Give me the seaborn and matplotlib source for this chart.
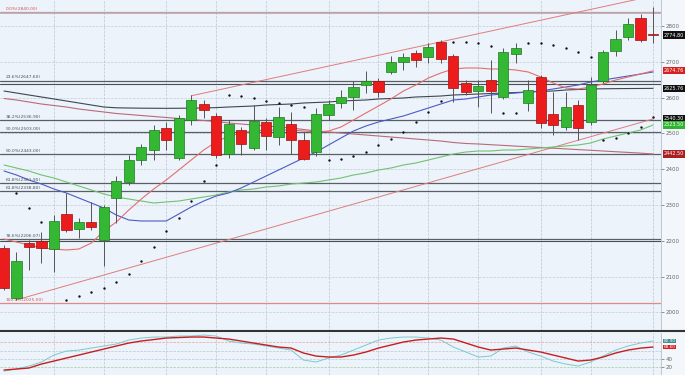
import numpy as np
import matplotlib.pyplot as plt
import seaborn as sns

sns.set_theme(style='white')
plt.rcParams['font.family'] = ['DejaVu Sans']

# daily candles (53 sessions)
opens = [2179.9, 2040.2, 2193.8, 2199.4, 2177.1, 2274.8, 2232.9, 2252.5, 2202.2, 2319.5,
         2364.2, 2425.7, 2453.6, 2515.1, 2431.3, 2537.4, 2582.1, 2548.6, 2442.4, 2509.5,
         2459.2, 2531.8, 2489.9, 2526.2, 2481.5, 2448.0, 2551.4, 2584.9, 2601.7, 2635.2,
         2646.3, 2671.5, 2699.4, 2724.6, 2713.4, 2755.3, 2716.2, 2640.8, 2618.4, 2649.1,
         2601.7, 2721.8, 2584.9, 2657.5, 2554.2, 2517.9, 2579.3, 2531.8, 2646.3, 2730.1,
         2769.2, 2822.3, 2776.5]
highs = [2188.2, 2168.7, 2202.2, 2224.6, 2272.0, 2333.5, 2263.7, 2308.4, 2300.0, 2381.0,
         2439.6, 2470.4, 2523.4, 2531.8, 2551.4, 2607.2, 2593.3, 2557.0, 2537.4, 2517.9,
         2579.3, 2543.0, 2573.7, 2559.8, 2503.9, 2570.9, 2593.3, 2621.2, 2646.3, 2674.3,
         2654.7, 2716.2, 2724.6, 2732.9, 2752.5, 2760.9, 2721.8, 2649.1, 2649.1, 2705.0,
         2738.5, 2752.5, 2649.1, 2663.1, 2615.6, 2615.6, 2593.3, 2657.5, 2732.9, 2788.8,
         2822.3, 2833.5, 2853.0]
lows = [2062.5, 2034.6, 2118.4, 2138.0, 2112.8, 2224.6, 2207.8, 2230.1, 2129.6, 2249.7,
        2355.8, 2411.7, 2425.7, 2453.6, 2425.7, 2523.4, 2543.0, 2431.3, 2431.3, 2439.6,
        2453.6, 2453.6, 2467.6, 2442.4, 2425.7, 2436.8, 2537.4, 2570.9, 2565.3, 2612.8,
        2601.7, 2665.9, 2677.1, 2685.4, 2696.6, 2696.6, 2587.7, 2607.2, 2573.7, 2557.0,
        2596.1, 2696.6, 2562.5, 2515.1, 2495.5, 2509.5, 2481.5, 2523.4, 2640.8, 2716.2,
        2760.9, 2755.3, 2752.5]
closes = [2068.1, 2143.5, 2182.6, 2179.9, 2255.3, 2230.1, 2252.5, 2238.5, 2294.4, 2367.0,
          2425.7, 2462.0, 2509.5, 2481.5, 2543.0, 2593.3, 2565.3, 2439.6, 2526.2, 2470.4,
          2534.6, 2492.7, 2545.8, 2481.5, 2428.5, 2554.2, 2582.1, 2601.7, 2629.6, 2646.3,
          2615.6, 2699.4, 2713.4, 2705.0, 2741.3, 2707.8, 2626.8, 2615.6, 2632.4, 2618.4,
          2727.3, 2738.5, 2621.2, 2529.0, 2523.4, 2573.7, 2515.1, 2635.2, 2727.3, 2763.7,
          2805.6, 2760.9, 2774.8]

# moving averages
ma_fast = [2205.0, 2196.6, 2188.2, 2179.9, 2177.1, 2174.3, 2177.1, 2193.8, 2227.3, 2252.5,
           2286.0, 2316.7, 2344.7, 2369.8, 2397.7, 2425.7, 2453.6, 2476.0, 2492.7, 2501.1,
           2506.7, 2509.5, 2509.5, 2509.5, 2506.7, 2503.9, 2506.7, 2517.9, 2537.4, 2557.0,
           2576.5, 2596.1, 2618.4, 2635.2, 2654.7, 2668.7, 2679.9, 2682.7, 2682.7, 2679.9,
           2679.9, 2677.1, 2671.5, 2657.5, 2640.8, 2626.8, 2624.0, 2629.6, 2638.0, 2649.1,
           2657.5, 2665.9, 2674.76]
ma_mid = [2395.0, 2383.8, 2369.8, 2358.6, 2344.7, 2333.5, 2319.5, 2305.6, 2291.6, 2272.0,
          2258.1, 2255.3, 2255.3, 2255.3, 2274.8, 2294.4, 2311.1, 2325.1, 2333.5, 2347.5,
          2364.2, 2381.0, 2397.7, 2414.5, 2431.3, 2448.0, 2467.6, 2487.1, 2506.7, 2520.7,
          2531.8, 2540.2, 2548.6, 2559.8, 2570.9, 2582.1, 2593.3, 2596.1, 2601.7, 2607.2,
          2610.0, 2612.8, 2615.6, 2618.4, 2624.0, 2629.6, 2635.2, 2643.5, 2649.1, 2654.7,
          2660.3, 2665.9, 2671.5]
ma_slow = [2411.7, 2403.3, 2394.9, 2383.8, 2375.4, 2364.2, 2353.1, 2341.9, 2330.7, 2322.3,
           2316.7, 2311.1, 2305.6, 2308.4, 2311.1, 2316.7, 2322.3, 2327.9, 2336.3, 2341.9,
           2344.7, 2350.3, 2353.1, 2358.6, 2361.4, 2364.2, 2369.8, 2375.4, 2383.8, 2389.4,
           2397.7, 2403.3, 2411.7, 2417.3, 2425.7, 2434.1, 2442.4, 2448.0, 2450.8, 2450.8,
           2453.6, 2453.6, 2456.4, 2459.2, 2462.0, 2464.8, 2467.6, 2473.2, 2484.3, 2492.7,
           2501.1, 2509.5, 2523.5]
ma_long = [2618.4, 2612.8, 2607.2, 2601.7, 2596.1, 2590.5, 2584.9, 2579.3, 2573.7, 2571.5,
           2570.9, 2570.4, 2570.2, 2570.0, 2570.2, 2570.5, 2571.0, 2572.0, 2573.7, 2575.1,
           2576.5, 2579.3, 2580.7, 2582.1, 2584.9, 2586.3, 2587.7, 2590.5, 2591.9, 2593.3,
           2596.1, 2597.5, 2598.9, 2601.7, 2603.0, 2604.4, 2607.2, 2608.6, 2610.0, 2611.4,
           2612.8, 2614.2, 2615.6, 2617.0, 2618.4, 2621.2, 2622.6, 2624.0, 2624.6, 2625.0,
           2625.3, 2625.5, 2625.76]
ma_longer = [2597.5, 2593.3, 2587.7, 2582.1, 2577.9, 2573.7, 2568.1, 2563.9, 2559.8, 2555.6,
             2552.8, 2550.0, 2547.2, 2544.4, 2541.6, 2538.8, 2536.0, 2533.2, 2529.0, 2526.2,
             2523.4, 2520.7, 2517.9, 2515.1, 2510.9, 2506.7, 2503.9, 2501.1, 2498.3, 2495.5,
             2492.7, 2489.9, 2487.1, 2484.3, 2481.5, 2478.7, 2474.6, 2471.8, 2470.4, 2468.4,
             2466.5, 2464.5, 2462.6, 2460.6, 2458.6, 2456.7, 2454.7, 2452.8, 2450.8, 2448.8,
             2446.9, 2444.9, 2442.5]

# parabolic SAR dots
sar_day = [1, 2, 3, 5, 6, 7, 8, 9, 10, 11, 12, 13, 14, 15, 16, 17,
           18, 19, 20, 21, 22, 23, 24, 26, 27, 28, 29, 30, 31, 32, 33, 34, 35,
           36, 37, 38, 39, 40, 41, 42, 43, 44, 45, 46, 47, 48, 49, 50, 51, 52]
sar_val = [2333.5, 2291.6, 2252.5, 2034.6, 2045.8, 2057.0, 2068.1, 2084.9, 2107.2, 2143.5,
           2182.6, 2227.3, 2263.7, 2311.1, 2367.0, 2411.7,
           2607.2, 2604.4, 2598.9, 2590.5, 2584.9, 2579.3, 2573.7,
           2425.7, 2428.5, 2436.8, 2448.0, 2467.6, 2484.3, 2503.9, 2531.8, 2559.8, 2590.5,
           2755.3, 2755.3, 2752.5, 2744.0, 2557.0, 2557.0, 2752.5, 2752.5, 2747.0, 2738.5,
           2727.3, 2713.4, 2481.5, 2487.1, 2501.1, 2517.9, 2545.8]

# trend lines (day, price)
upper_day = [15, 52]
upper_val = [2605.0, 2884.0]
lower_day = [1, 52]
lower_val = [2035.0, 2540.3]

# fibonacci levels
fib_levels = [2840.0, 2647.6, 2536.9, 2503.0, 2443.0, 2361.95, 2338.8, 2206.07, 2025.0]
fib_names = ['0.0%', '23.6%', '38.2%', '50.0%', '50.0%', '61.8%', '61.8%', '78.6%', '100.0%']
extra_levels = [2638.0, 2199.0]

# stochastic
stoch_k = [11.4, 16.2, 23.3, 32.9, 49.5, 59.0, 61.4, 66.2, 71.0, 75.7,
           85.2, 90.0, 92.4, 92.4, 94.8, 94.8, 97.1, 94.8, 82.9, 78.1,
           75.7, 71.0, 66.2, 61.4, 37.6, 32.9, 42.4, 49.5, 61.4, 73.3,
           85.2, 90.0, 92.4, 92.4, 90.0, 85.2, 68.6, 56.7, 44.8, 47.1,
           66.2, 71.0, 56.7, 47.1, 35.2, 28.1, 23.3, 32.9, 47.1, 61.4,
           71.0, 78.1, 82.9]
stoch_d = [13.8, 16.2, 18.6, 28.1, 35.2, 42.4, 49.5, 56.7, 63.8, 71.0,
           78.1, 82.9, 86.4, 90.0, 91.2, 92.4, 92.4, 90.0, 87.6, 82.9,
           78.1, 73.3, 68.6, 66.2, 54.3, 47.1, 44.8, 44.8, 49.5, 56.7,
           66.2, 73.3, 80.5, 85.2, 87.6, 90.0, 87.6, 78.1, 68.6, 61.4,
           63.8, 66.2, 61.4, 56.7, 49.5, 42.4, 35.2, 37.6, 44.8, 54.3,
           61.4, 66.0, 68.6]

week_starts = [4, 8, 13, 17, 21, 26, 30, 34, 38, 43, 47, 52]
price_ticks = [2000, 2100, 2200, 2300, 2400, 2500, 2600, 2700, 2800]

days = np.arange(len(closes))
o = np.array(opens)
c = np.array(closes)
up = c >= o

bg = '#ecf3fa'
fig = plt.figure(figsize=(6.85, 3.75), dpi=100, facecolor='#f3f7fb')
ax = fig.add_axes([0, 0.1173, 0.965, 0.8827], facecolor=bg)
ax2 = fig.add_axes([0, 0, 0.965, 0.112], facecolor=bg)

# grid
for a in (ax, ax2):
    for d in week_starts:
        a.axvline(d, color='#b9c6d3', lw=0.5, ls='--', zorder=0)
for p in price_ticks:
    ax.axhline(p, color='#c3ccd6', lw=0.5, ls='--', zorder=0)

# fib lines
for lv, nm in zip(fib_levels, fib_names):
    red = nm in ('0.0%', '100.0%')
    ax.axhline(lv, color='#e08a8a' if red else '#5a5f66', lw=0.9, zorder=1)
    ax.text(0.15, lv + 3, f'{nm}({lv:.2f})', fontsize=3.2,
            color='#d25555' if red else '#4a4f55', va='bottom', ha='left')
ax.axhline(fib_levels[0] - 4, color='#b9a8ae', lw=1.2, zorder=1)
for lv in extra_levels:
    ax.axhline(lv, color='#4a4f55', lw=0.8, zorder=1)

# trend lines
sns.lineplot(x=upper_day, y=upper_val, ax=ax, color='#e07c7c', lw=0.7)
sns.lineplot(x=lower_day, y=lower_val, ax=ax, color='#e07c7c', lw=0.7)

# moving averages
sns.lineplot(x=days, y=ma_longer, ax=ax, color='#b86a7a', lw=0.8)
sns.lineplot(x=days, y=ma_long, ax=ax, color='#3e4650', lw=0.8)
sns.lineplot(x=days, y=ma_slow, ax=ax, color='#72c272', lw=0.8)
sns.lineplot(x=days, y=ma_mid, ax=ax, color='#4b5cc4', lw=0.8)
sns.lineplot(x=days, y=ma_fast, ax=ax, color='#e36e6e', lw=0.8)

# candles
ax.vlines(days, lows, highs, color='#555555', lw=0.7, zorder=3)
body = np.maximum(np.abs(c - o), 3.0)
ax.bar(days[up], body[up], bottom=np.minimum(o, c)[up], width=0.82,
       color='#34b834', edgecolor='#1e7a1e', lw=0.5, zorder=4)
ax.bar(days[~up], body[~up], bottom=np.minimum(o, c)[~up], width=0.82,
       color='#ec1c1c', edgecolor='#9c1010', lw=0.5, zorder=4)

sns.scatterplot(x=sar_day, y=sar_val, ax=ax, s=3, color='#111111', linewidth=0, zorder=5)

ax.set_xlim(-0.32, 52.64)
ax.set_ylim(1948, 2872.6)
ax.yaxis.tick_right()
ax.set_yticks(price_ticks)
ax.set_yticklabels([str(p) for p in price_ticks])
ax.tick_params(axis='y', labelsize=4, length=2, pad=1.5, colors='#666666', width=0.5)
ax.set_xticks([])
for s in ax.spines.values():
    s.set_visible(False)
ax.spines['right'].set_visible(True)
ax.spines['right'].set_color('#aab4be')
ax.spines['right'].set_linewidth(0.5)

# price tags
tags = [(2774.80, '#111111'), (2674.76, '#d42020'), (2625.76, '#111111'),
        (2540.30, '#111111'), (2523.50, '#2fb52f'), (2442.50, '#a82020')]
for val, col in tags:
    ax.text(1.004, val, f'{val:.2f}', transform=ax.get_yaxis_transform(), fontsize=3.5,
            color='white', va='center', ha='left', clip_on=False, zorder=6,
            bbox=dict(boxstyle='square,pad=0.22', fc=col, ec='none'))

# stochastic panel
for lv, col in zip([80, 60, 40, 20], ['#e6a0a0', '#b9c6d3', '#b9c6d3', '#9fcf9f']):
    ax2.axhline(lv, color=col, lw=0.5, ls='--', zorder=0)
sns.lineplot(x=days, y=stoch_k, ax=ax2, color='#7ccaca', lw=0.7)
sns.lineplot(x=days, y=stoch_d, ax=ax2, color='#c81e1e', lw=1.0)
ax2.set_xlim(-0.32, 52.64)
ax2.set_ylim(2, 102)
ax2.yaxis.tick_right()
ax2.set_yticks([20, 40])
ax2.set_yticklabels(['20', '40'])
ax2.tick_params(axis='y', labelsize=4, length=2, pad=1.5, colors='#666666', width=0.5)
ax2.set_xticks([])
for s in ax2.spines.values():
    s.set_visible(False)
ax2.spines['right'].set_visible(True)
ax2.spines['right'].set_color('#aab4be')
ax2.spines['right'].set_linewidth(0.5)
for val, col in [(stoch_k[-1], '#3f8f8f'), (stoch_d[-1], '#d42020')]:
    ax2.text(1.004, val, f'{val:.2f}', transform=ax2.get_yaxis_transform(), fontsize=3.1,
             color='white', va='center', ha='left', clip_on=False, zorder=6,
             bbox=dict(boxstyle='square,pad=0.1', fc=col, ec='none'))

fig.add_artist(plt.Line2D([0, 1], [0.1173, 0.1173], transform=fig.transFigure,
                          color='#333333', lw=1.5))

fig.savefig('out.png', dpi=100, facecolor=fig.get_facecolor())
